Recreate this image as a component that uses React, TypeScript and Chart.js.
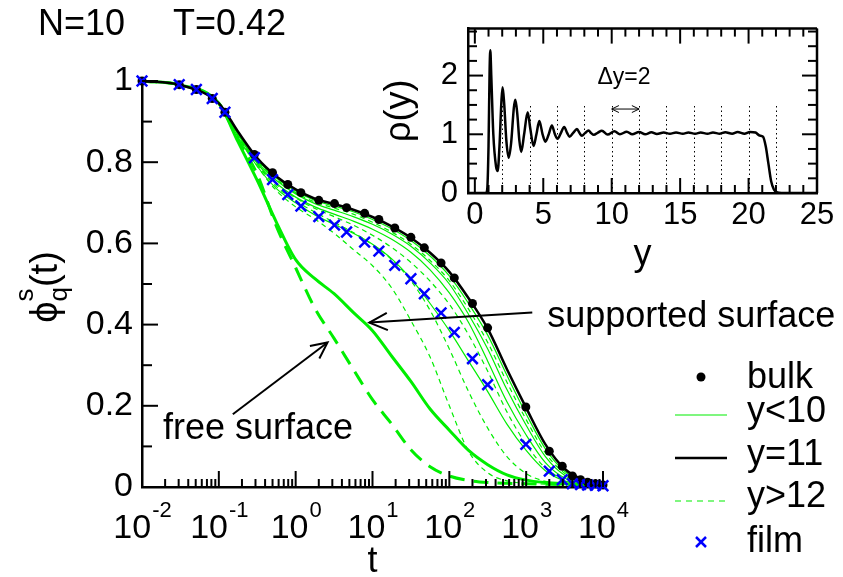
import React, { useEffect, useRef } from 'react';
import { Chart, registerables } from 'chart.js';

Chart.register(...registerables);

const FONT = '"Liberation Sans", Arial, Helvetica, sans-serif';
const GREEN = '#00ee00';
const BLUE = '#0000ff';

// ---------- main panel data: phi_q^s(t) ----------
const sampleTimes = [0.01, 0.0316, 0.1, 0.178, 0.316, 0.562, 1, 1.78, 3.16, 5.62, 10, 17.8, 31.6, 56.2, 100, 178, 316, 562, 1000, 1780, 3160, 5620, 10000];

const layer11 = [1.0, 0.99, 0.945, 0.875, 0.81, 0.765, 0.733, 0.71, 0.697, 0.683, 0.665, 0.642, 0.614, 0.577, 0.53, 0.465, 0.39, 0.29, 0.195, 0.105, 0.045, 0.017, 0.006];
const supportedSurface = [1.0, 0.99, 0.945, 0.85, 0.755, 0.652, 0.56, 0.513, 0.476, 0.43, 0.385, 0.322, 0.26, 0.192, 0.14, 0.09, 0.055, 0.03, 0.017, 0.011, 0.008, 0.006, 0.005];
const freeSurface = [1.0, 0.99, 0.945, 0.855, 0.77, 0.642, 0.54, 0.44, 0.366, 0.29, 0.215, 0.155, 0.092, 0.05, 0.027, 0.016, 0.011, 0.009, 0.008, 0.007, 0.006, 0.006, 0.005];

const innerLayerA = [1.0, 0.99, 0.944, 0.862, 0.79, 0.735, 0.7, 0.67, 0.647, 0.625, 0.598, 0.562, 0.513, 0.452, 0.385, 0.31, 0.235, 0.155, 0.09, 0.04, 0.015, 0.006, 0.004];
const innerLayerB = [1.0, 0.99, 0.944, 0.868, 0.797, 0.748, 0.714, 0.69, 0.672, 0.655, 0.635, 0.61, 0.578, 0.535, 0.478, 0.405, 0.31, 0.21, 0.128, 0.06, 0.022, 0.008, 0.004];
const innerLayerC = [1.0, 0.99, 0.945, 0.87, 0.8, 0.755, 0.722, 0.698, 0.682, 0.666, 0.647, 0.623, 0.593, 0.552, 0.5, 0.425, 0.34, 0.24, 0.152, 0.075, 0.029, 0.011, 0.005];
const innerLayerD = [1.0, 0.99, 0.945, 0.873, 0.806, 0.761, 0.729, 0.706, 0.692, 0.678, 0.659, 0.636, 0.607, 0.569, 0.52, 0.452, 0.374, 0.275, 0.18, 0.094, 0.039, 0.015, 0.006];

const outerLayerA = [1.0, 0.99, 0.944, 0.862, 0.79, 0.73, 0.69, 0.66, 0.625, 0.585, 0.545, 0.49, 0.41, 0.32, 0.2, 0.088, 0.035, 0.015, 0.009, 0.007, 0.005, 0.004, 0.004];
const outerLayerB = [1.0, 0.99, 0.944, 0.865, 0.795, 0.74, 0.705, 0.677, 0.652, 0.627, 0.597, 0.56, 0.508, 0.435, 0.34, 0.235, 0.145, 0.075, 0.033, 0.014, 0.008, 0.005, 0.004];
const outerLayerC = [1.0, 0.99, 0.944, 0.866, 0.795, 0.745, 0.712, 0.686, 0.666, 0.645, 0.62, 0.59, 0.553, 0.507, 0.45, 0.375, 0.285, 0.185, 0.105, 0.047, 0.018, 0.007, 0.004];
const outerLayerD = [1.0, 0.99, 0.945, 0.872, 0.803, 0.758, 0.725, 0.702, 0.687, 0.672, 0.652, 0.628, 0.598, 0.558, 0.508, 0.438, 0.356, 0.258, 0.166, 0.084, 0.034, 0.013, 0.005];

const markerTimes = [0.01, 0.0305, 0.051, 0.082, 0.12, 0.29, 0.5, 0.79, 1.17, 2.0, 3.2, 4.6, 7.9, 12.1, 19.5, 31.6, 47.3, 78, 116, 200, 315, 990, 2000, 2950, 4000, 5100, 6300, 7950, 10000];
const bulkPhi = [1.0, 0.991, 0.979, 0.957, 0.923, 0.819, 0.774, 0.745, 0.725, 0.706, 0.698, 0.688, 0.674, 0.659, 0.638, 0.615, 0.589, 0.552, 0.515, 0.452, 0.392, 0.197, 0.088, 0.051, 0.027, 0.018, 0.012, 0.008, 0.005];
const filmPhi = [1.0, 0.991, 0.979, 0.957, 0.923, 0.811, 0.757, 0.72, 0.692, 0.666, 0.645, 0.628, 0.603, 0.581, 0.546, 0.513, 0.476, 0.429, 0.381, 0.316, 0.252, 0.105, 0.039, 0.018, 0.008, 0.006, 0.005, 0.004, 0.003];

const xTickValues = [0.01, 0.1, 1, 10, 100, 1000, 10000];
const xTickExponents = ['-2', '-1', '0', '1', '2', '3', '4'];
const legendLabels = ['bulk', 'y<10', 'y=11', 'y>12', 'film'];

// ---------- inset data: rho(y) ----------
const profileY = [-0.5, 0.8, 0.9, 1.0, 1.08, 1.13, 1.2, 1.35, 1.55, 1.67, 1.8, 1.95, 2.03, 2.15, 2.3, 2.47, 2.65, 2.85, 2.96, 3.1, 3.25, 3.39, 3.6, 3.86, 4.05, 4.29, 4.5, 4.71, 4.95, 5.15, 5.4, 5.63, 5.85, 6.05, 6.3, 6.53, 6.73, 6.92, 7.2, 7.46, 7.65, 7.82, 8.05, 8.31, 8.5, 8.69, 9.0, 9.28, 9.7, 10.2, 10.6, 11.1, 11.5, 12.0, 12.45, 12.9, 13.3, 13.8, 14.25, 14.7, 15.2, 15.6, 16.1, 16.5, 17.0, 17.4, 17.9, 18.3, 18.8, 19.2, 19.7, 20.1, 20.5, 20.8, 21.05, 21.25, 21.45, 21.65, 21.85, 22.1, 22.4, 25.0];
const profileRho = [0, 0, 0.05, 0.8, 2.1, 2.43, 2.0, 1.0, 0.45, 0.375, 0.8, 1.6, 1.8, 1.5, 0.9, 0.6, 0.85, 1.45, 1.59, 1.35, 0.9, 0.7, 1.0, 1.375, 1.1, 0.8, 1.0, 1.225, 1.0, 0.875, 1.0, 1.15, 1.0, 0.925, 1.03, 1.125, 1.03, 0.96, 1.03, 1.09, 1.02, 0.975, 1.02, 1.066, 1.02, 0.99, 1.03, 1.06, 0.995, 1.05, 1.0, 1.045, 1.0, 1.04, 1.0, 1.035, 1.005, 1.03, 1.01, 1.03, 1.01, 1.03, 1.01, 1.03, 1.01, 1.03, 1.01, 1.035, 1.01, 1.04, 1.01, 1.04, 1.03, 0.98, 0.96, 0.8, 0.5, 0.2, 0.06, 0.01, 0, 0];
const layerBoundaries = [2, 4, 6, 8, 10, 12, 14, 16, 18, 20, 22];

const pts = (xs: number[], ys: number[]) => xs.map((x, i) => ({ x, y: ys[i] }));

function line(ctx: CanvasRenderingContext2D, x1: number, y1: number, x2: number, y2: number) {
  ctx.beginPath();
  ctx.moveTo(x1, y1);
  ctx.lineTo(x2, y2);
  ctx.stroke();
}

function arrowHead(ctx: CanvasRenderingContext2D, fx: number, fy: number, tx: number, ty: number, len: number) {
  const a = Math.atan2(ty - fy, tx - fx);
  const s = 0.45;
  ctx.beginPath();
  ctx.moveTo(tx - len * Math.cos(a - s), ty - len * Math.sin(a - s));
  ctx.lineTo(tx, ty);
  ctx.lineTo(tx - len * Math.cos(a + s), ty - len * Math.sin(a + s));
  ctx.stroke();
}

const mainDecor = {
  id: 'mainDecor',
  afterDraw(chart: any) {
    const { ctx, chartArea: a, scales } = chart;
    const x = scales.x;
    const y = scales.y;
    ctx.save();
    ctx.strokeStyle = '#000';
    ctx.fillStyle = '#000';
    ctx.lineWidth = 2;
    // inward x ticks
    for (let e = -2; e <= 4; e++) {
      for (let m = 1; m <= 9; m++) {
        const v = m * Math.pow(10, e);
        if (v > 10000) break;
        const px = x.getPixelForValue(v);
        line(ctx, px, a.bottom, px, a.bottom - (m === 1 ? 16 : 8));
      }
    }
    // inward y ticks
    for (let k = 0; k <= 10; k++) {
      const py = y.getPixelForValue(k / 10);
      line(ctx, a.left, py, a.left + (k % 2 === 0 ? 16 : 10), py);
    }
    // x tick labels with superscripts
    ctx.textBaseline = 'alphabetic';
    ctx.textAlign = 'left';
    xTickValues.forEach((v, i) => {
      const px = x.getPixelForValue(v);
      ctx.font = '34px ' + FONT;
      const w10 = ctx.measureText('10').width;
      ctx.font = '22px ' + FONT;
      const we = ctx.measureText(xTickExponents[i]).width;
      const start = px - (w10 + we) / 2;
      ctx.font = '34px ' + FONT;
      ctx.fillText('10', start, 538);
      ctx.font = '22px ' + FONT;
      ctx.fillText(xTickExponents[i], start + w10 + 1, 517);
    });
    // axis titles
    ctx.font = '36px ' + FONT;
    ctx.textAlign = 'center';
    ctx.fillText('t', (a.left + a.right) / 2, 572);
    ctx.save();
    ctx.translate(57, 287);
    ctx.rotate(-Math.PI / 2);
    ctx.textAlign = 'left';
    ctx.font = '38px ' + FONT;
    const wPhi = ctx.measureText('ϕ').width;
    const wT = ctx.measureText('(t)').width;
    ctx.font = '26px ' + FONT;
    const wS = Math.max(ctx.measureText('s').width, ctx.measureText('q').width);
    let cx = -(wPhi + wS + wT) / 2;
    ctx.font = '38px ' + FONT;
    ctx.fillText('ϕ', cx, 0);
    cx += wPhi;
    ctx.font = '26px ' + FONT;
    ctx.fillText('s', cx, -24);
    ctx.fillText('q', cx, 10);
    cx += wS;
    ctx.font = '38px ' + FONT;
    ctx.fillText('(t)', cx, 0);
    ctx.restore();
    // header texts
    ctx.font = '36px ' + FONT;
    ctx.textAlign = 'left';
    ctx.fillText('N=10', 38, 35);
    ctx.fillText('T=0.42', 173, 35);
    // annotations
    ctx.lineWidth = 2;
    const sx1 = x.getPixelForValue(1200), sy1 = y.getPixelForValue(0.43);
    const sx2 = x.getPixelForValue(9.1), sy2 = y.getPixelForValue(0.405);
    line(ctx, sx1, sy1, sx2, sy2);
    arrowHead(ctx, sx1, sy1, sx2, sy2, 20);
    const fx1 = x.getPixelForValue(0.152), fy1 = y.getPixelForValue(0.179);
    const fx2 = x.getPixelForValue(2.6), fy2 = y.getPixelForValue(0.356);
    line(ctx, fx1, fy1, fx2, fy2);
    arrowHead(ctx, fx1, fy1, fx2, fy2, 18);
    ctx.fillText('supported surface', x.getPixelForValue(1875), y.getPixelForValue(0.395));
    ctx.fillText('free surface', x.getPixelForValue(0.0187), y.getPixelForValue(0.117));
    // legend
    const lx1 = 675, lx2 = 727, mx = 701, tx = 747;
    const rows = [377, 415, 458, 501, 542];
    ctx.fillText(legendLabels[0], tx, rows[0] + 11);
    ctx.beginPath();
    ctx.arc(mx, rows[0], 4.5, 0, Math.PI * 2);
    ctx.fill();
    ctx.strokeStyle = GREEN;
    ctx.lineWidth = 1.2;
    line(ctx, lx1, rows[1], lx2, rows[1]);
    ctx.fillText(legendLabels[1], tx, rows[1] + 7);
    ctx.strokeStyle = '#000';
    ctx.lineWidth = 2.5;
    line(ctx, lx1, rows[2], lx2, rows[2]);
    ctx.fillText(legendLabels[2], tx, rows[2] + 7);
    ctx.strokeStyle = GREEN;
    ctx.lineWidth = 1.2;
    ctx.setLineDash([6, 5]);
    line(ctx, lx1, rows[3], lx2, rows[3]);
    ctx.setLineDash([]);
    ctx.fillText(legendLabels[3], tx, rows[3] + 6);
    ctx.strokeStyle = BLUE;
    ctx.lineWidth = 2.5;
    line(ctx, mx - 5, rows[4] - 5, mx + 5, rows[4] + 5);
    line(ctx, mx - 5, rows[4] + 5, mx + 5, rows[4] - 5);
    ctx.fillText(legendLabels[4], tx, rows[4] + 10);
    ctx.restore();
  },
};

const insetDecor = {
  id: 'insetDecor',
  beforeDatasetsDraw(chart: any) {
    const { ctx, scales } = chart;
    const x = scales.x;
    const y = scales.y;
    ctx.save();
    ctx.strokeStyle = '#000';
    ctx.lineWidth = 1;
    ctx.setLineDash([1.5, 3]);
    layerBoundaries.forEach((b) => {
      const px = Math.round(x.getPixelForValue(b)) + 0.5;
      line(ctx, px, y.getPixelForValue(0), px, y.getPixelForValue(1.5));
    });
    ctx.restore();
  },
  afterDraw(chart: any) {
    const { ctx, chartArea: a, scales } = chart;
    const x = scales.x;
    const y = scales.y;
    ctx.save();
    ctx.strokeStyle = '#000';
    ctx.fillStyle = '#000';
    ctx.lineWidth = 2.5;
    line(ctx, a.left, a.top, a.right, a.top);
    line(ctx, a.right, a.top, a.right, a.bottom);
    ctx.lineWidth = 2;
    for (let v = 0; v <= 25; v++) {
      const px = x.getPixelForValue(v);
      const len = v % 5 === 0 ? 15 : 8;
      line(ctx, px, a.bottom, px, a.bottom - len);
      line(ctx, px, a.top, px, a.top + len);
    }
    for (let k = 0; k <= 11; k++) {
      const py = y.getPixelForValue(k * 0.25);
      const len = k % 4 === 0 ? 15 : 9;
      line(ctx, a.left, py, a.left + len, py);
      line(ctx, a.right, py, a.right - len, py);
    }
    // delta y arrow
    ctx.lineWidth = 1;
    const ay = y.getPixelForValue(1.43);
    const ax1 = x.getPixelForValue(10), ax2 = x.getPixelForValue(12);
    line(ctx, ax1, ay, ax2, ay);
    arrowHead(ctx, ax2, ay, ax1, ay, 8);
    arrowHead(ctx, ax1, ay, ax2, ay, 8);
    ctx.font = '23px ' + FONT;
    ctx.textAlign = 'center';
    ctx.textBaseline = 'middle';
    ctx.fillText('Δy=2', x.getPixelForValue(10.9), y.getPixelForValue(1.97));
    // axis titles
    ctx.font = '36px ' + FONT;
    ctx.fillText('y', x.getPixelForValue(12.25), 255);
    ctx.save();
    ctx.translate(20, (a.top + a.bottom) / 2);
    ctx.rotate(-Math.PI / 2);
    ctx.fillText('ρ(y)', 0, 0);
    ctx.restore();
    ctx.restore();
  },
};

export default function App() {
  const mainRef = useRef<HTMLCanvasElement>(null);
  const insetRef = useRef<HTMLCanvasElement>(null);

  useEffect(() => {
    Chart.defaults.font.family = FONT;
    Chart.defaults.color = '#000';

    const lineDs = (label: string, ys: number[], color: string, width: number, dash: number[]) => ({
      label,
      data: pts(sampleTimes, ys),
      borderColor: color,
      backgroundColor: color,
      borderWidth: width,
      borderDash: dash,
      pointRadius: 0,
      fill: false,
      cubicInterpolationMode: 'monotone' as const,
      clip: false as any,
    });

    const main = new Chart(mainRef.current!, {
      type: 'line',
      data: {
        datasets: [
          { label: 'film', data: pts(markerTimes, filmPhi), showLine: false, pointStyle: 'crossRot', pointRadius: 7.5, borderColor: BLUE, backgroundColor: BLUE, borderWidth: 2.5, clip: false as any },
          { label: 'bulk', data: pts(markerTimes, bulkPhi), showLine: false, pointStyle: 'circle', pointRadius: 4.5, borderColor: '#000', backgroundColor: '#000', borderWidth: 0, clip: false as any },
          lineDs('y=11', layer11, '#000', 2.5, []),
          lineDs('supported surface', supportedSurface, GREEN, 3, []),
          lineDs('free surface', freeSurface, GREEN, 3, [15, 9]),
          lineDs('y<10 a', innerLayerA, GREEN, 1.2, []),
          lineDs('y<10 b', innerLayerB, GREEN, 1.2, []),
          lineDs('y<10 c', innerLayerC, GREEN, 1.2, []),
          lineDs('y<10 d', innerLayerD, GREEN, 1.2, []),
          lineDs('y>12 a', outerLayerA, GREEN, 1.2, [5, 4]),
          lineDs('y>12 b', outerLayerB, GREEN, 1.2, [5, 4]),
          lineDs('y>12 c', outerLayerC, GREEN, 1.2, [5, 4]),
          lineDs('y>12 d', outerLayerD, GREEN, 1.2, [5, 4]),
        ],
      },
      options: {
        responsive: false,
        animation: false,
        devicePixelRatio: 1,
        layout: { padding: { left: 0, right: 240, top: 81, bottom: 0 } },
        plugins: { legend: { display: false }, tooltip: { enabled: false }, title: { display: false } },
        scales: {
          x: {
            type: 'logarithmic',
            min: 0.01,
            max: 10000,
            grid: { display: false, drawTicks: false },
            border: { display: true, color: '#000', width: 2.5 },
            ticks: { display: false },
            afterFit: (s: any) => { s.height = 90; },
          },
          y: {
            type: 'linear',
            min: 0,
            max: 1,
            grid: { display: false, drawTicks: false },
            border: { display: true, color: '#000', width: 2.5 },
            ticks: {
              stepSize: 0.2,
              color: '#000',
              padding: 9,
              font: { size: 34, family: FONT },
              callback: (v: any) => String(Math.round(Number(v) * 10) / 10),
            },
            afterFit: (s: any) => { s.width = 142; },
          },
        },
      },
      plugins: [mainDecor],
    });

    const inset = new Chart(insetRef.current!, {
      type: 'line',
      data: {
        datasets: [
          { label: 'rho', data: pts(profileY, profileRho), borderColor: '#000', backgroundColor: '#000', borderWidth: 2.5, pointRadius: 0, fill: false, cubicInterpolationMode: 'monotone' },
        ],
      },
      options: {
        responsive: false,
        animation: false,
        devicePixelRatio: 1,
        layout: { padding: { left: 0, right: 26, top: 6, bottom: 0 } },
        plugins: { legend: { display: false }, tooltip: { enabled: false } },
        scales: {
          x: {
            type: 'linear',
            min: -0.5,
            max: 25,
            grid: { display: false, drawTicks: false },
            border: { display: true, color: '#000', width: 2.5 },
            ticks: { stepSize: 5, includeBounds: false, autoSkip: false, maxRotation: 0, color: '#000', padding: 4, font: { size: 31, family: FONT } },
            afterFit: (s: any) => { s.height = 97; },
          },
          y: {
            type: 'linear',
            min: 0,
            max: 2.8,
            grid: { display: false, drawTicks: false },
            border: { display: true, color: '#000', width: 2.5 },
            ticks: { stepSize: 1, includeBounds: false, color: '#000', padding: 10, font: { size: 31, family: FONT } },
            afterFit: (s: any) => { s.width = 88; },
          },
        },
      },
      plugins: [insetDecor],
    });

    return () => {
      main.destroy();
      inset.destroy();
    };
  }, []);

  return (
    <div style={{ position: 'absolute', left: 0, top: 0, width: 843, height: 577, background: '#fff', overflow: 'hidden' }}>
      <canvas ref={mainRef} width={843} height={577} style={{ position: 'absolute', left: 0, top: 0, width: 843, height: 577 }} />
      <canvas ref={insetRef} width={463} height={290} style={{ position: 'absolute', left: 380, top: 0, width: 463, height: 290 }} />
    </div>
  );
}
